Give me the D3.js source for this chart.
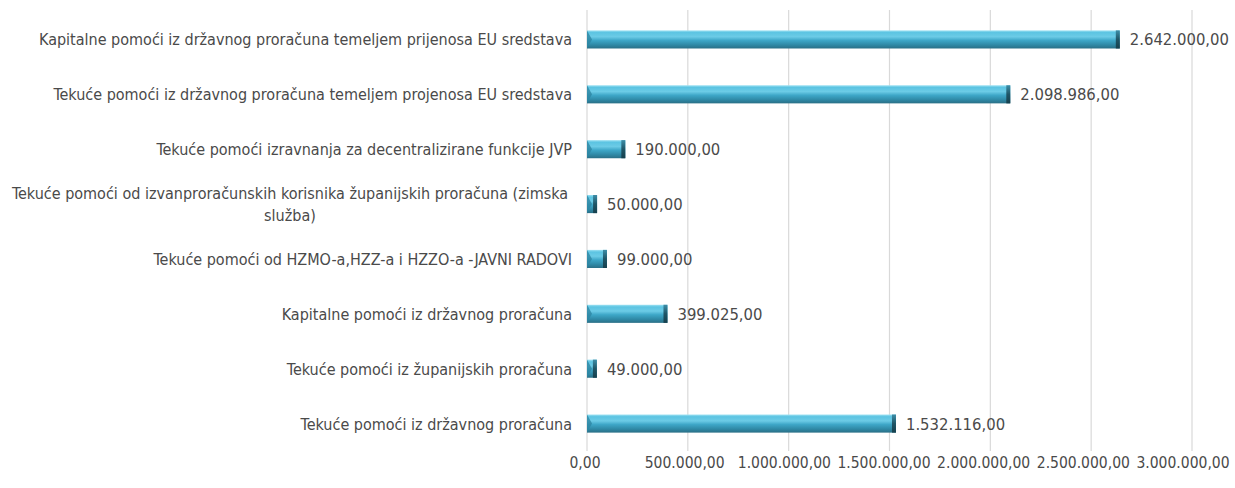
<!DOCTYPE html>
<html>
<head>
<meta charset="utf-8">
<script src="https://cdn.jsdelivr.net/npm/d3@7"></script>
<style>
  body { margin: 0; background: #fff; }
  text { font-family: "Liberation Sans Narrow", "DejaVu Sans Condensed", "Open Sans", sans-serif; fill: #4a4a4a; }
</style>
</head>
<body>
<div id="chart"></div>
<script>
// categories, top to bottom
var categories = [
  "Kapitalne pomoći iz državnog proračuna temeljem prijenosa EU sredstava",
  "Tekuće pomoći iz državnog proračuna temeljem projenosa EU sredstava",
  "Tekuće pomoći izravnanja za decentralizirane funkcije JVP",
  "Tekuće pomoći od izvanproračunskih korisnika županijskih proračuna (zimska|služba)",
  "Tekuće pomoći od HZMO-a,HZZ-a i HZZO-a -JAVNI RADOVI",
  "Kapitalne pomoći iz državnog proračuna",
  "Tekuće pomoći iz županijskih proračuna",
  "Tekuće pomoći iz državnog proračuna"
];
var values = [2642000, 2098986, 190000, 50000, 99000, 399025, 49000, 1532116];
var ticks = [0, 500000, 1000000, 1500000, 2000000, 2500000, 3000000];

var W = 1235, H = 488;
var svg = d3.select("#chart").append("svg").attr("width", W).attr("height", H);

var fmt = function (v) {
  var s = d3.format(",.2f")(v);
  return s.replace(/,/g, "#").replace(".", ",").replace(/#/g, ".");
};

var x = d3.scaleLinear().domain([0, 3000000]).range([587, 1192]);
// tick labels sit a little inside the gridlines in the original
var xl = d3.scaleLinear().domain([0, 3000000]).range([585, 1183]);
var y = d3.scaleBand().domain(categories).range([12, 451]).paddingInner(0.67).paddingOuter(0.335);

// gradients for the bevelled bars
var defs = svg.append("defs");
var g1 = defs.append("linearGradient").attr("id", "barGrad").attr("x1", 0).attr("y1", 0).attr("x2", 0).attr("y2", 1);
[[0, "#9fe2f3"], [0.12, "#5cc4e2"], [0.35, "#6ccbe6"], [0.55, "#3ea7c8"], [0.8, "#2f89a6"], [1, "#2a6f86"]].forEach(function (s) {
  g1.append("stop").attr("offset", s[0]).attr("stop-color", s[1]);
});
var g2 = defs.append("linearGradient").attr("id", "capGrad").attr("x1", 0).attr("y1", 0).attr("x2", 0).attr("y2", 1);
[[0, "#3d8ea8"], [0.5, "#1f5566"], [1, "#16404d"]].forEach(function (s) {
  g2.append("stop").attr("offset", s[0]).attr("stop-color", s[1]);
});

// gridlines
svg.append("g").selectAll("line").data(ticks).enter().append("line")
  .attr("x1", function (d) { return x(d); })
  .attr("x2", function (d) { return x(d); })
  .attr("y1", 10).attr("y2", 451)
  .attr("stroke", "#d9d9d9").attr("stroke-width", 1.2);

// x axis labels
svg.append("g").selectAll("text").data(ticks).enter().append("text")
  .attr("x", function (d) { return xl(d); })
  .attr("y", 468)
  .attr("text-anchor", "middle")
  .style("font-size", "15.5px")
  .text(function (d) { return fmt(d); });

// bars
var bars = svg.append("g").selectAll("g").data(categories).enter().append("g");
bars.append("rect")
  .attr("x", x(0))
  .attr("y", function (d) { return y(d); })
  .attr("width", function (d, i) { return x(values[i]) - x(0); })
  .attr("height", y.bandwidth())
  .attr("fill", "url(#barGrad)");
// left bevel
bars.append("path")
  .attr("d", function (d) {
    var y0 = y(d), h = y.bandwidth(), x0 = x(0);
    return "M" + x0 + "," + y0 + "L" + (x0 + 5) + "," + (y0 + h / 2) + "L" + x0 + "," + (y0 + h) + "Z";
  })
  .attr("fill", "#2d86a3").attr("opacity", 0.8);
// right cap
bars.append("rect")
  .attr("x", function (d, i) { return x(values[i]) - 4; })
  .attr("y", function (d) { return y(d); })
  .attr("width", 4)
  .attr("height", y.bandwidth())
  .attr("fill", "url(#capGrad)");

// value labels
svg.append("g").selectAll("text").data(categories).enter().append("text")
  .attr("x", function (d, i) { return x(values[i]) + 10; })
  .attr("y", function (d) { return y(d) + y.bandwidth() / 2 + 6; })
  .style("font-size", "16.5px")
  .text(function (d, i) { return fmt(values[i]); });

// category labels
var labels = svg.append("g").selectAll("text").data(categories).enter().append("text")
  .attr("text-anchor", "middle")
  .style("font-size", "16px");
labels.each(function (d) {
  var parts = d.split("|");
  var t = d3.select(this);
  var cy = y(d) + y.bandwidth() / 2;
  if (parts.length === 1) {
    t.attr("text-anchor", "end").attr("x", 572).attr("y", cy + 6).text(d);
  } else {
    t.attr("y", cy - 11 + 6);
    t.append("tspan").attr("x", 290).attr("y", cy - 11 + 6).text(parts[0]);
    t.append("tspan").attr("x", 290).attr("y", cy + 11 + 6).text(parts[1]);
  }
});
</script>
</body>
</html>
